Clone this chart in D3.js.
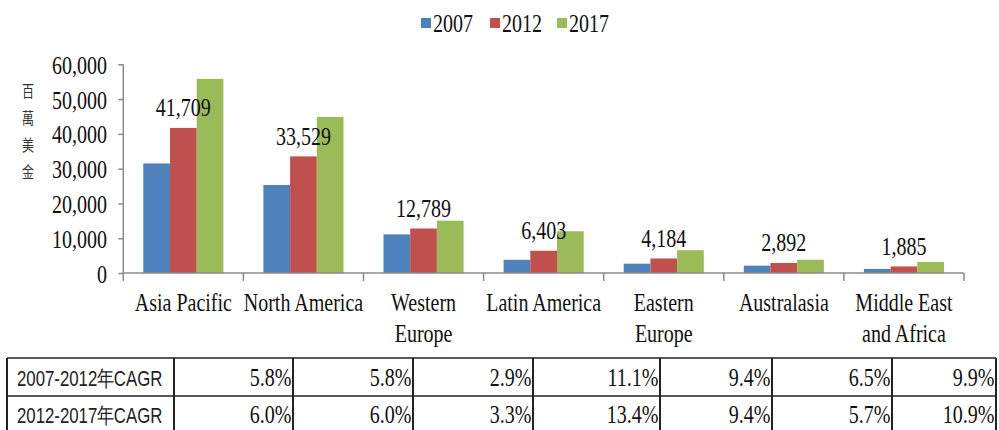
<!DOCTYPE html>
<html><head><meta charset="utf-8">
<script src="https://cdn.jsdelivr.net/npm/d3@7"></script>
<style>html,body{margin:0;padding:0;background:#fff;}svg{display:block;}</style>
</head><body>
<svg id="chart" width="999" height="430"></svg>
<script>
// ---- data ----
const categories = ["Asia Pacific", "North America", "Western\nEurope", "Latin America", "Eastern\nEurope", "Australasia", "Middle East\nand Africa"];
const seriesNames = ["2007", "2012", "2017"];
const values2007 = [31500, 25300, 11100, 3800, 2680, 2110, 1180];
const values2012 = [41709, 33529, 12789, 6403, 4184, 2892, 1885];
const values2017 = [55800, 44870, 15040, 12000, 6550, 3820, 3170];
const dataLabels = ["41,709", "33,529", "12,789", "6,403", "4,184", "2,892", "1,885"];
const yTicks = [0, 10000, 20000, 30000, 40000, 50000, 60000];
const yTitle = ["百", "萬", "美", "金"];
const tableRowLabels = ["2007-2012年CAGR", "2012-2017年CAGR"];
const cagr0712 = ["5.8%", "5.8%", "2.9%", "11.1%", "9.4%", "6.5%", "9.9%"];
const cagr1217 = ["6.0%", "6.0%", "3.3%", "13.4%", "9.4%", "5.7%", "10.9%"];

// ---- layout / style ----
const colors = ["#4F81BD", "#C0504D", "#9BBB59"];
const SERIF = "'Liberation Serif','Times New Roman',serif";
const SANS = "'Liberation Sans',Arial,sans-serif";
const SY = 1.28; // vertical stretch of text in the reference
const tableCols = [7, 174, 293, 413, 533, 660, 772, 892, 996];

const svg = d3.select("#chart");
const x0 = d3.scaleBand().domain(categories).range([123.3, 964]).paddingInner(0).paddingOuter(0);
const x1 = d3.scaleBand().domain(seriesNames).range([20, x0.bandwidth() - 20]).padding(0);
const y = d3.scaleLinear().domain([0, 60000]).range([273, 64.3]);

function stxt(g, x, yy, str, opts) {
  return g.append("text")
    .attr("transform", `translate(${x},${yy}) scale(1,${SY})`)
    .attr("text-anchor", opts.anchor || "middle")
    .attr("font-family", opts.family || SERIF)
    .attr("font-size", opts.size || 20)
    .attr("fill", opts.fill || "#111")
    .text(str);
}

// bars
const seriesValues = [values2007, values2012, values2017];
const groups = svg.append("g").selectAll("g").data(categories).join("g")
  .attr("transform", d => `translate(${x0(d)},0)`);
groups.selectAll("rect").data((d, i) => seriesNames.map((s, j) => ({s, v: seriesValues[j][i], j})))
  .join("rect")
  .attr("x", d => x1(d.s))
  .attr("y", d => y(d.v))
  .attr("width", x1.bandwidth())
  .attr("height", d => y(0) - y(d.v))
  .attr("fill", d => colors[d.j]);

// axes
const axisColor = "#8a8a8a";
const yAxis = svg.append("g").attr("transform", "translate(123.3,0)")
  .call(d3.axisLeft(y).tickValues(yTicks).tickSize(5).tickFormat(""));
yAxis.select(".domain").attr("stroke", axisColor).attr("stroke-width", 1.5).attr("d", `M0,${y(60000)}V${y(0)}`);
yAxis.selectAll(".tick line").attr("stroke", axisColor).attr("stroke-width", 1.5);
yTicks.forEach(t => stxt(svg, 107, y(t) + 9.5, d3.format(",")(t), {anchor: "end"}));

const xAxis = svg.append("g").attr("transform", `translate(0,${y(0)})`);
xAxis.append("line").attr("x1", 123.3).attr("x2", 964).attr("y1", 0).attr("y2", 0)
  .attr("stroke", axisColor).attr("stroke-width", 1.5);
const bounds = categories.map(c => x0(c)).concat([x0.range()[1]]);
xAxis.selectAll("line.tk").data(bounds).join("line").attr("class", "tk")
  .attr("x1", d => d).attr("x2", d => d).attr("y1", 0).attr("y2", 8)
  .attr("stroke", axisColor).attr("stroke-width", 1.5);

// category labels
categories.forEach(c => {
  const cx = x0(c) + x0.bandwidth() / 2;
  c.split("\n").forEach((ln, k) => stxt(svg, cx, 310.5 + k * 31, ln, {}));
});

// data labels above 2012 bars
categories.forEach((c, i) => {
  const cx = x0(c) + x1("2012") + x1.bandwidth() / 2;
  stxt(svg, cx, y(values2012[i]) - 11.5, dataLabels[i], {});
});

// y title
yTitle.forEach((ch, k) => stxt(svg, 28, 97 + k * 27, ch, {family: "'Noto Sans CJK TC','Noto Sans CJK SC',sans-serif", size: 12, fill: "#333"}));

// legend
const legX = [421, 490, 557];
seriesNames.forEach((s, j) => {
  svg.append("rect").attr("x", legX[j]).attr("y", 18).attr("width", 10).attr("height", 10).attr("fill", colors[j]);
  stxt(svg, legX[j] + 12, 31.5, s, {anchor: "start"});
});

// table
const tbl = svg.append("g");
const rowsY = [358, 396, 434];
const lineC = "#222";
rowsY.forEach(yy => tbl.append("line").attr("x1", tableCols[0]).attr("x2", tableCols[tableCols.length - 1])
  .attr("y1", yy).attr("y2", yy).attr("stroke", lineC).attr("stroke-width", 1.5));
tableCols.forEach(xx => tbl.append("line").attr("x1", xx).attr("x2", xx).attr("y1", rowsY[0]).attr("y2", rowsY[2])
  .attr("stroke", lineC).attr("stroke-width", 2));
const rows = [cagr0712, cagr1217];
const baseY = [386, 423];
rows.forEach((r, ri) => {
  stxt(tbl, 17, baseY[ri] - 0.5, tableRowLabels[ri], {anchor: "start", family: SANS, size: 16.8, fill: "#222"});
  r.forEach((v, ci) => stxt(tbl, tableCols[ci + 2] - 1.5, baseY[ri], v, {anchor: "end"}));
});
</script>
</body></html>
